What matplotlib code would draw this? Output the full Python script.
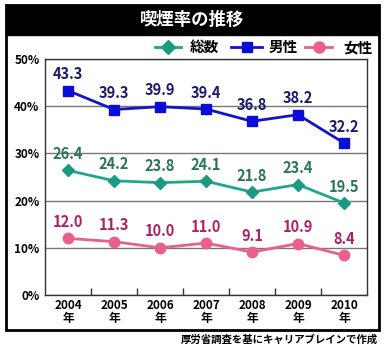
import matplotlib
matplotlib.use("Agg")
import matplotlib.pyplot as plt
from matplotlib.patches import Rectangle
from matplotlib.lines import Line2D

plt.rcParams['font.family'] = ['Noto Sans CJK JP', 'DejaVu Sans']

years = ["2004", "2005", "2006", "2007", "2008", "2009", "2010"]
total = [26.4, 24.2, 23.8, 24.1, 21.8, 23.4, 19.5]
male = [43.3, 39.3, 39.9, 39.4, 36.8, 38.2, 32.2]
female = [12.0, 11.3, 10.0, 11.0, 9.1, 10.9, 8.4]
series_names = ["総数", "男性", "女性"]
yticks = [0, 10, 20, 30, 40, 50]

W, H = 386, 351
fig = plt.figure(figsize=(W / 100, H / 100), dpi=100)

def fx(px):
    return px / W

def fy(py):
    return 1 - py / H

# outer box and title bar
fig.patches.append(Rectangle((fx(6), fy(330)), fx(373), (330 - 5) / H, transform=fig.transFigure,
                             fill=False, edgecolor='black', lw=2, zorder=0))
fig.patches.append(Rectangle((fx(6), fy(35)), fx(373), 30 / H, transform=fig.transFigure,
                             facecolor='black', edgecolor='black', lw=1, zorder=0))
fig.text(fx(192), fy(20), "喫煙率の推移", color='white', fontsize=12.5, fontweight='bold',
         ha='center', va='center')

ax = fig.add_axes([fx(45), fy(295), fx(367 - 45), (295 - 59) / H])
x = list(range(len(years)))

c_total, c_male, c_female = '#1fa78c', '#1414c8', '#ea5f8c'
t_total, t_male, t_female = '#2a7558', '#1a1a6e', '#b01e66'

ax.plot(x, total, color=c_total, lw=2, marker='D', ms=6.5, mfc='#1a9a80', mec='#1a9a80', zorder=3)
ax.plot(x, male, color=c_male, lw=2, marker='s', ms=6.5, mfc='#0c0cd8', mec='#0c0cd8', zorder=3)
ax.plot(x, female, color=c_female, lw=2, marker='o', ms=7.5, mfc=c_female, mec=c_female, zorder=3)

for xs, vals, col in ((x, total, t_total), (x, male, t_male), (x, female, t_female)):
    for xi, v in zip(xs, vals):
        ax.annotate(f"{v:.1f}", (xi, v), xytext=(0, 6), textcoords='offset points',
                    ha='center', va='bottom', color=col, fontsize=10.5, fontweight='bold', zorder=4)

ax.set_xlim(-0.5, len(years) - 0.5)
ax.set_ylim(0, 50)
ax.set_yticks(yticks)
ax.set_yticklabels([f"{t}%" for t in yticks], fontsize=8.5, fontweight='bold')
ax.tick_params(axis='y', length=0, pad=4)
ax.set_xticks(x)
ax.set_xticklabels([f"{y}\n年" for y in years], fontsize=8.5, fontweight='bold', linespacing=0.95)
ax.tick_params(axis='x', length=0, pad=3)
ax.set_xticks([i + 0.5 for i in range(len(years) - 1)], minor=True)
ax.tick_params(axis='x', which='minor', direction='in', length=5, width=1, color='#333333')
ax.grid(axis='y', color='#777777', lw=1)
ax.set_axisbelow(True)
for s in ax.spines.values():
    s.set_color('#333333')
    s.set_linewidth(1)

# legend
ly = fy(47)
items = [(155, 181, 'D', c_total, '#1a9a80', 190, series_names[0]),
         (231, 262, 's', c_male, '#0c0cd8', 269, series_names[1]),
         (305, 332, 'o', c_female, c_female, 343, series_names[2])]
for x0, x1, mk, lc, mc, tx, name in items:
    fig.add_artist(Line2D([fx(x0), fx(x1)], [ly, ly], transform=fig.transFigure, color=lc, lw=2))
    fig.add_artist(Line2D([fx((x0 + x1) / 2)], [ly], transform=fig.transFigure, marker=mk,
                          ms=7 if mk != 'o' else 8, mfc=mc, mec=mc, lw=0))
    fig.text(fx(tx), ly, name, fontsize=10.5, fontweight='bold', ha='left', va='center')

fig.text(fx(378), fy(340), "厚労省調査を基にキャリアブレインで作成", fontsize=7.5, fontweight='bold',
         ha='right', va='center')

fig.savefig("out.png", dpi=100)
